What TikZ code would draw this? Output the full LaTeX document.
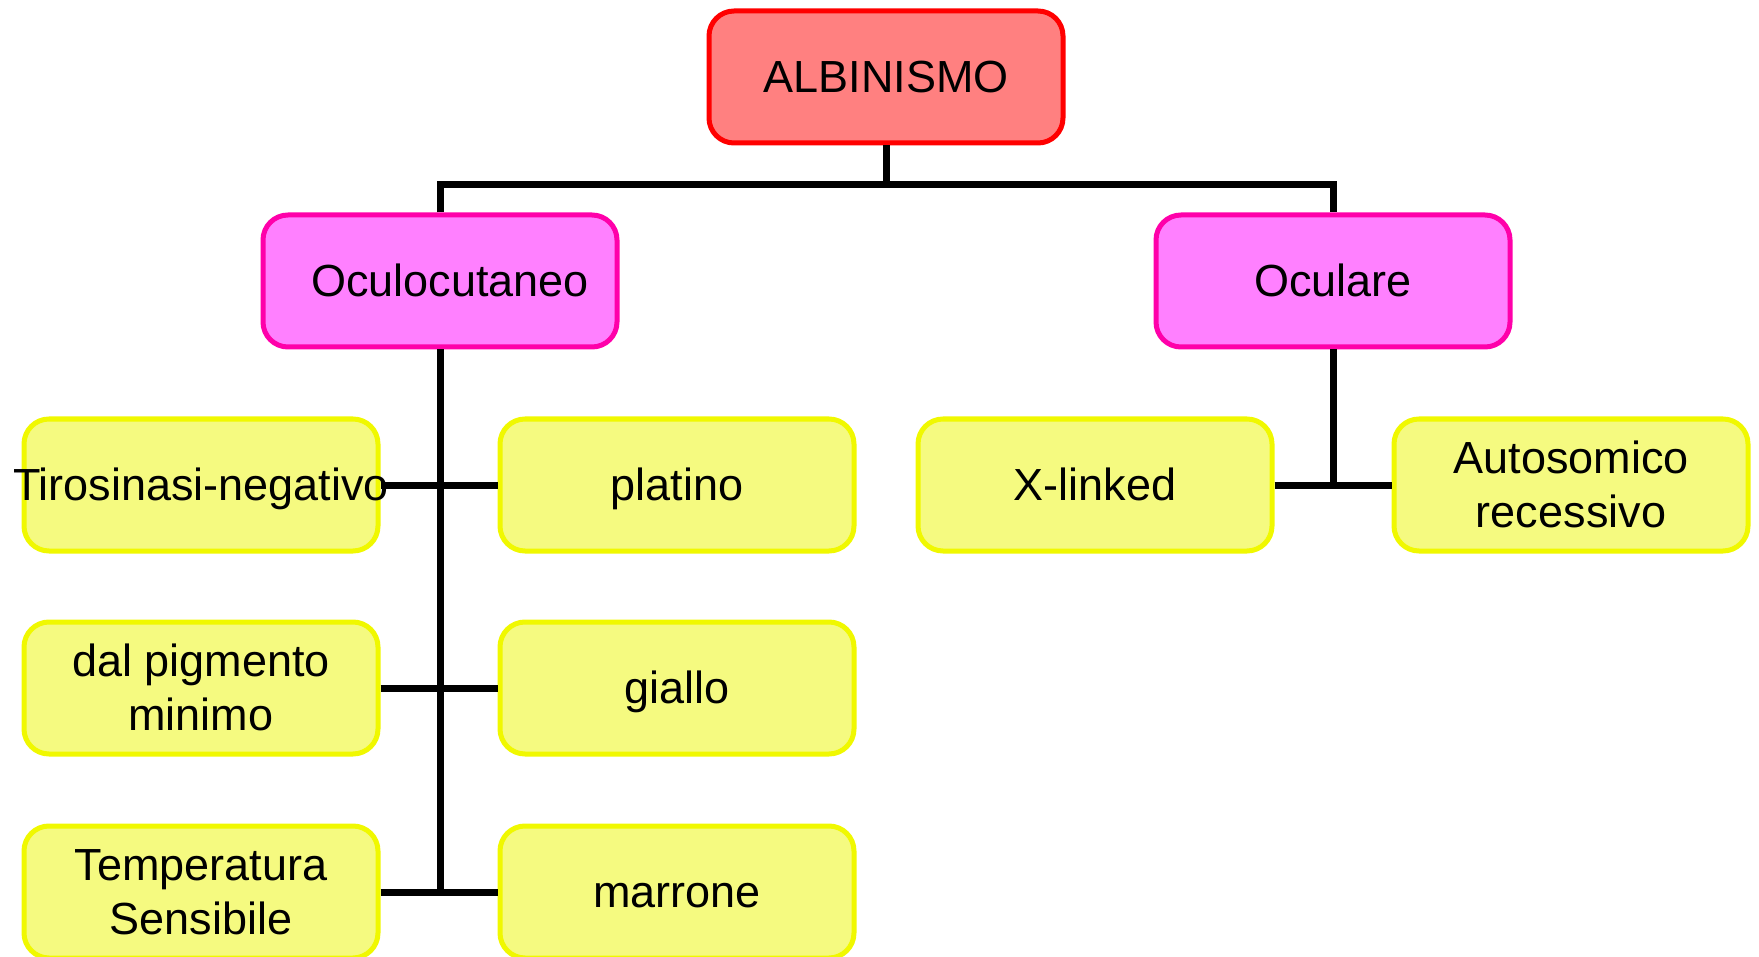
\documentclass[tikz,border=0pt]{standalone}
\usepackage{fontspec}
\setmainfont{Liberation Sans}
\definecolor{redfill}{RGB}{255,128,128}
\definecolor{redline}{RGB}{255,0,0}
\definecolor{magfill}{RGB}{255,128,255}
\definecolor{magline}{RGB}{255,0,170}
\definecolor{yelfill}{RGB}{245,250,128}
\definecolor{yelline}{RGB}{240,248,0}
\newcommand{\ms}{\rule[-9.5pt]{0pt}{50.2pt}}
\tikzset{
  box/.style={rectangle, rounded corners=25pt, line width=5pt, minimum width=354pt, minimum height=132pt, inner sep=0pt, align=center, font=\fontsize{45}{54}\selectfont},
  rootbox/.style={box, fill=redfill, draw=redline},
  catbox/.style={box, fill=magfill, draw=magline},
  leafbox/.style={box, fill=yelfill, draw=yelline},
  conn/.style={line width=7pt, draw=black}
}
\begin{document}
\begin{tikzpicture}[x=1pt,y=-1pt]
\useasboundingbox (0,0) rectangle (1759,957);
\clip (0,0) rectangle (1759,957);
\node[rootbox] (alb) at (886,77) {\ms ALBINISMO};
\node[catbox] (oc) at (440,281) {\ms\hspace*{20pt}Oculocutaneo};
\node[catbox] (ocu) at (1333,281) {\ms Oculare};
\node[leafbox] (tiro) at (201,485) {\ms\makebox[0pt]{Tirosinasi-negativo}};
\node[leafbox] (plat) at (677,485) {\ms platino};
\node[leafbox] (xl) at (1095,485) {\ms X-linked};
\node[leafbox] (auto) at (1571,485) {\ms Autosomico\\\ms recessivo};
\node[leafbox] (dal) at (201,688) {\ms dal pigmento\\\ms minimo};
\node[leafbox] (gia) at (677,688) {\ms giallo};
\node[leafbox] (temp) at (201,892) {\ms Temperatura\\\ms Sensibile};
\node[leafbox] (marr) at (677,892) {\ms marrone};
\coordinate (hb) at (886,185);
\draw[conn] (alb.south) -- (hb);
\draw[conn] (oc.north) |- (hb) -| (ocu.north);
\draw[conn] (oc.south) -- (oc.south |- marr.west);
\draw[conn] (tiro.east) -- (plat.west);
\draw[conn] (dal.east) -- (gia.west);
\draw[conn] (temp.east) -- (marr.west);
\draw[conn] (ocu.south) -- (ocu.south |- xl.east);
\draw[conn] (xl.east) -- (auto.west);
\end{tikzpicture}
\end{document}
